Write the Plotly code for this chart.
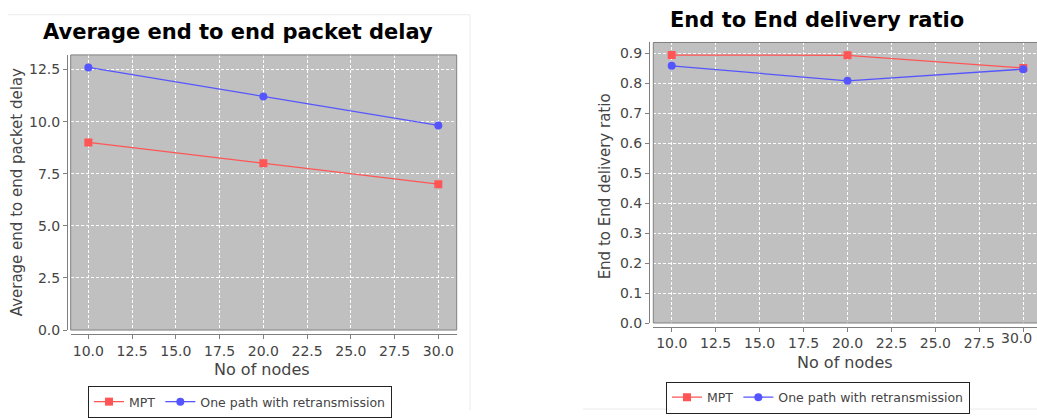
import plotly.graph_objects as go

W, H = 1037, 418

nodes = [10, 20, 30]
delay_mpt = [9.0, 8.0, 7.0]
delay_one = [12.6, 11.2, 9.82]
ratio_mpt = [0.894, 0.893, 0.851]
ratio_one = [0.858, 0.808, 0.847]
x_ticks = [10.0, 12.5, 15.0, 17.5, 20.0, 22.5, 25.0, 27.5, 30.0]
delay_ticks = [0.0, 2.5, 5.0, 7.5, 10.0, 12.5]
ratio_ticks = [0.0, 0.1, 0.2, 0.3, 0.4, 0.5, 0.6, 0.7, 0.8, 0.9]

RED = "#FF5555"
BLUE = "#5555FF"
FONT = "DejaVu Sans"
TXT = "#444444"

def px(x):
    return x / W

def py(y):
    return 1 - y / H

fig = go.Figure()

def add_series(xa, ya, mpt, one, legend):
    fig.add_trace(go.Scatter(x=nodes, y=mpt, name="MPT", mode="lines+markers",
                             line=dict(color=RED, width=1.3),
                             marker=dict(symbol="square", size=8, color=RED),
                             xaxis=xa, yaxis=ya, legend=legend))
    fig.add_trace(go.Scatter(x=nodes, y=one, name="One path with retransmission",
                             mode="lines+markers",
                             line=dict(color=BLUE, width=1.3),
                             marker=dict(symbol="circle", size=8, color=BLUE),
                             xaxis=xa, yaxis=ya, legend=legend))

add_series("x", "y", delay_mpt, delay_one, "legend")
add_series("x2", "y2", ratio_mpt, ratio_one, "legend2")

axis_common = dict(
    showgrid=True, gridcolor="white", gridwidth=1, griddash="3px,2px",
    zeroline=False, showline=True, linecolor="#808080", linewidth=1,
    ticks="outside", ticklen=4, tickcolor="#808080",
    tickfont=dict(family=FONT, size=14, color=TXT),
)

x_text = [f"{v:.1f}" for v in x_ticks]
# last label of the cut-off right chart is drawn separately, nudged inside the page
x_text2 = x_text[:-1] + [""]

fig.update_layout(
    width=W, height=H,
    margin=dict(l=0, r=0, t=0, b=0),
    paper_bgcolor="white",
    plot_bgcolor="#C0C0C0",
    showlegend=True,
    xaxis=dict(domain=[px(70.7), px(456.7)], range=[8.99, 31.05],
               tickvals=x_ticks, ticktext=x_text,
               anchor="free", position=py(341), **axis_common),
    yaxis=dict(domain=[py(336.5), py(56)], range=[0, 13.2],
               tickvals=delay_ticks, ticktext=[f"{v:.1f}" for v in delay_ticks],
               anchor="free", position=px(67), **axis_common),
    xaxis2=dict(domain=[px(653.3), 1.0], range=[8.953, 30.78],
                tickvals=x_ticks, ticktext=x_text2,
                anchor="free", position=py(333), **axis_common),
    yaxis2=dict(domain=[py(329.3), py(43.3)], range=[0, 0.936],
                tickvals=ratio_ticks, ticktext=[f"{v:.1f}" for v in ratio_ticks],
                anchor="free", position=px(649), **axis_common),
    legend=dict(x=px(88), y=py(394), xanchor="left", yanchor="top",
                orientation="h", bordercolor="#222222", borderwidth=1,
                bgcolor="white", itemwidth=30,
                font=dict(family=FONT, size=12.5, color=TXT)),
    legend2=dict(x=px(666), y=py(389), xanchor="left", yanchor="top",
                 orientation="h", bordercolor="#222222", borderwidth=1,
                 bgcolor="white", itemwidth=30,
                 font=dict(family=FONT, size=12.5, color=TXT)),
)

fig.add_annotation(text=x_text[-1], x=x_ticks[-1], xref="x2", y=py(345), yref="paper",
                   xanchor="center", yanchor="middle", xshift=-7, showarrow=False,
                   font=dict(family=FONT, size=14, color=TXT))

# plot outlines
for xr, yr, x1 in [("x domain", "y domain", 1), ("x2 domain", "y2 domain", 1.05)]:
    fig.add_shape(type="rect", xref=xr, yref=yr, x0=0, x1=x1, y0=0, y1=1,
                  line=dict(color="#808080", width=1), layer="above")

# faint panel borders
for (x0, y0, x1, y1) in [(8, 15, 470, 15), (470, 15, 470, 418), (583, 417, 1037, 417)]:
    fig.add_shape(type="line", xref="paper", yref="paper",
                  x0=px(x0), y0=py(y0), x1=px(x1), y1=py(y1),
                  line=dict(color="#EBEBEB", width=1))

annots = [
    dict(text="<b>Average end to end packet delay</b>", x=px(238), y=py(33), size=21, angle=0, color="#000000"),
    dict(text="<b>End to End delivery ratio</b>", x=px(817), y=py(20), size=21, angle=0, color="#000000"),
    dict(text="No of nodes", x=px(262), y=py(377), size=16, angle=0, color=TXT),
    dict(text="No of nodes", x=px(845), y=py(370), size=16, angle=0, color=TXT),
    dict(text="Average end to end packet delay", x=px(17), y=py(196), size=15, angle=-90, color=TXT),
    dict(text="End to End delivery ratio", x=px(605), y=py(190), size=15, angle=-90, color=TXT),
]
for a in annots:
    fig.add_annotation(text=a["text"], x=a["x"], y=a["y"], xref="paper", yref="paper",
                       xanchor="center", yanchor="middle", showarrow=False,
                       textangle=a["angle"],
                       font=dict(family=FONT, size=a["size"], color=a["color"]))

fig.write_html("out.html",
               config={"displayModeBar": False, "staticPlot": True},
               post_script="document.body.style.margin='0';document.body.style.overflow='hidden';")
